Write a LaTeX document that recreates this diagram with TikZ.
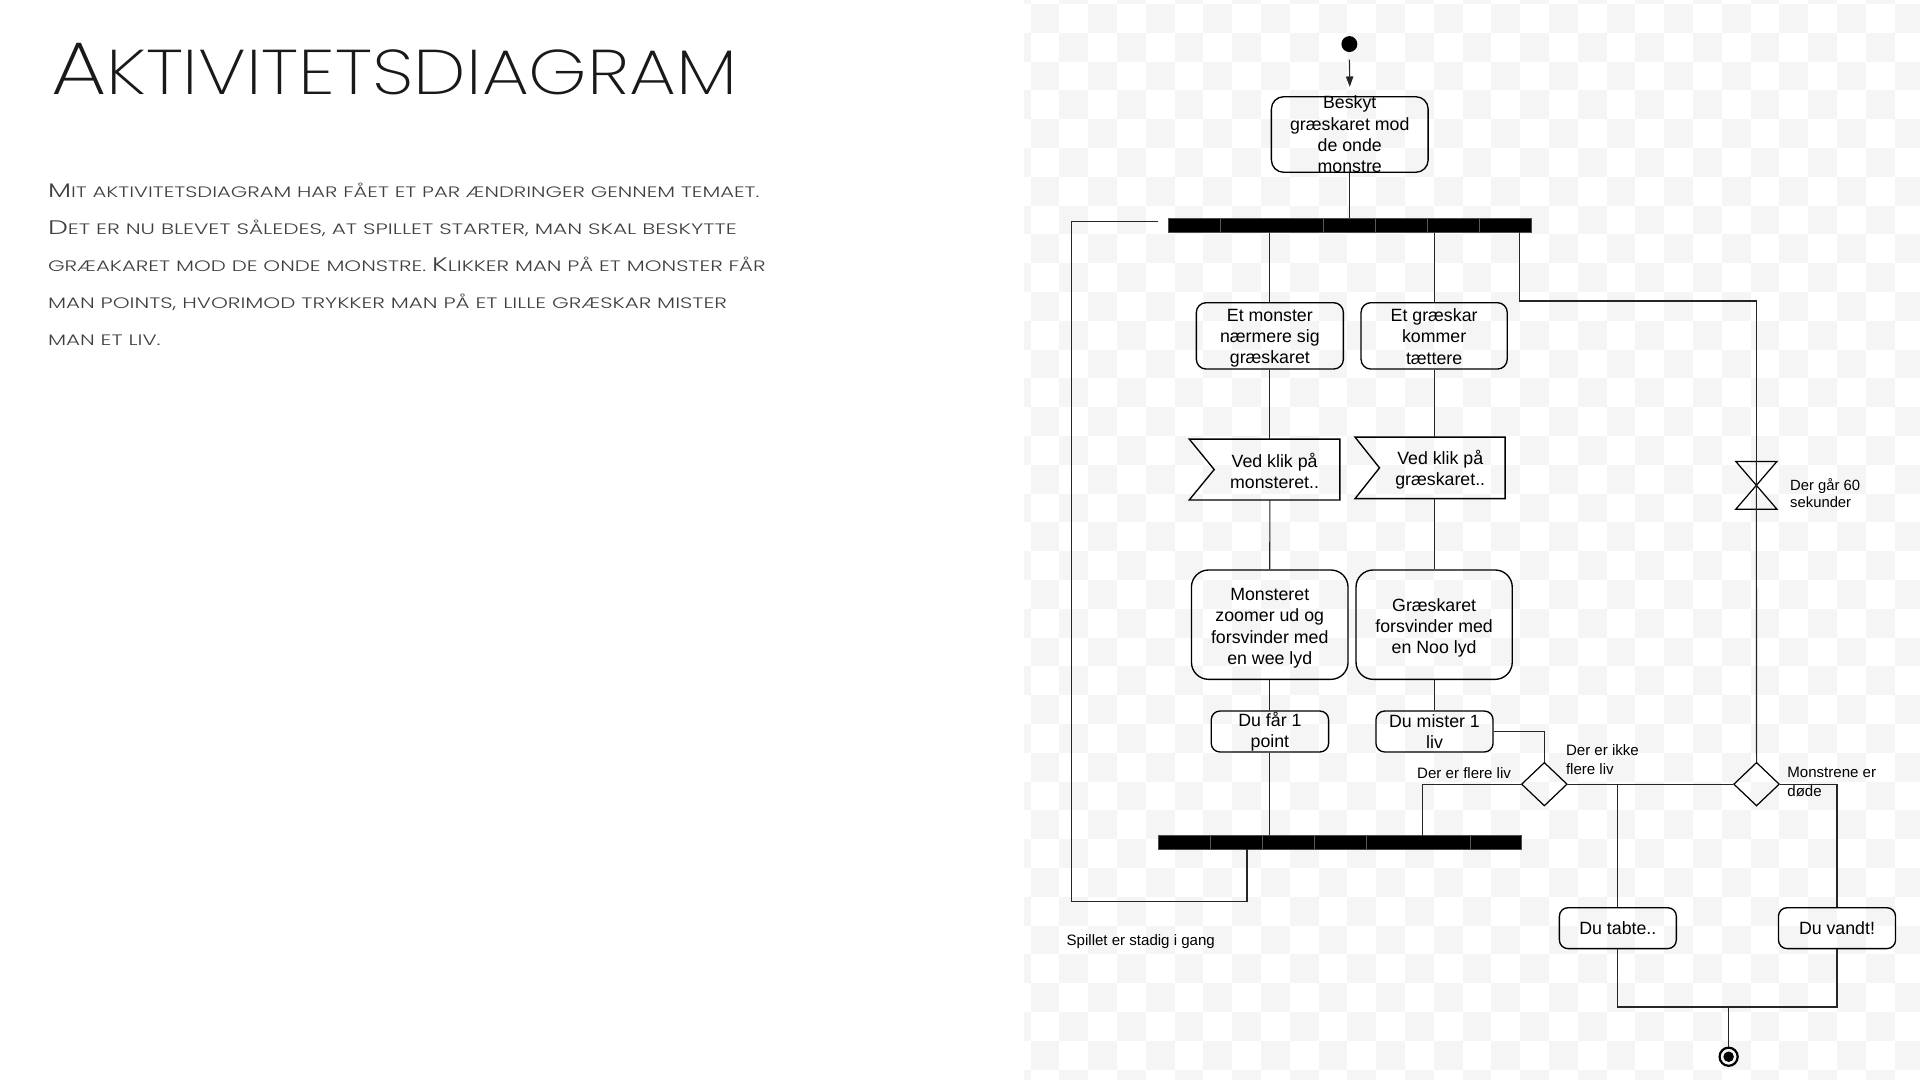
\documentclass[tikz,border=0pt]{standalone}
\usepackage{fontspec}
\usepackage{graphicx}
\setmainfont{Liberation Sans}
\IfFontExistsTF{Poppins ExtraLight}{\newfontfamily\titlefont{Poppins ExtraLight}}{\newfontfamily\titlefont{Poppins}}
\IfFontExistsTF{Poppins Light}{\newfontfamily\bodyfont{Poppins Light}}{\newfontfamily\bodyfont{Poppins}}
\usetikzlibrary{shapes.geometric,arrows.meta}
\definecolor{chk}{RGB}{245,245,245}
\newcommand\BB[1]{{\fontsize{15.3}{18}\selectfont #1}}
\newcommand\SSm[1]{{\fontsize{11.8}{14}\selectfont #1}}
\newcommand\bline[2]{\resizebox{#1}{11.2pt}{\bodyfont\fontsize{15.3}{18}\selectfont\vphantom{H}\smash{#2}}}
\tikzset{
  conn/.style={line width=0.9pt, draw=black!85},
  abox/.style={draw=black, line width=1.1pt, rounded corners=#1, inner sep=0pt},
  abox/.default=7pt,
  txt/.style={font=\fontsize{14.5}{17.4}\selectfont, align=center, inner sep=0pt, text=black},
  lbl/.style={font=\fontsize{12.3}{15.5}\selectfont, align=left, inner sep=0pt, text=black},
  barnode/.style={fill=black, draw=black!70, line width=0.6pt, inner sep=0pt},
  sep/.style={draw=black!65, line width=0.6pt},
}
\begin{document}
\begin{tikzpicture}[x=1pt,y=-1pt]
\useasboundingbox (0,0) rectangle (1568,882);
\fill[white] (0,0) rectangle (1568,882);
% checker background
\begin{scope}
\clip (836.3,0) rectangle (1568,882);
\foreach \i in {-1,...,31}{
  \foreach \j in {-1,...,37}{
    \pgfmathtruncatemacro\s{mod(\i+\j+100,2)}
    \ifnum\s=0 \fill[chk] ({841.7+\i*23.52},{3.27+\j*23.52}) rectangle ++(23.52,23.52);\fi
  }
}
\end{scope}

% left text
\node[anchor=base west, inner sep=0pt, text=black!90] (title) at (41.5,76.8)
  {\resizebox{560.5pt}{42.8pt}{\titlefont\fontsize{61}{70}\selectfont\vphantom{H}\smash{A{\fontsize{51.6}{60}\selectfont KTIVITETSDIAGRAM}}}};
\node[anchor=base west, inner sep=0pt, text=black!75] (txa) at (39,161.4)
  {\bline{581pt}{\BB{M}\SSm{IT AKTIVITETSDIAGRAM HAR FÅET ET PAR ÆNDRINGER GENNEM TEMAET.}}};
\node[anchor=base west, inner sep=0pt, text=black!75] (txb) at (39,191.6)
  {\bline{562.5pt}{\BB{D}\SSm{ET ER NU BLEVET SÅLEDES, AT SPILLET STARTER, MAN SKAL BESKYTTE}}};
\node[anchor=base west, inner sep=0pt, text=black!75] (txc) at (39,222)
  {\bline{586pt}{\SSm{GRÆAKARET MOD DE ONDE MONSTRE. }\BB{K}\SSm{LIKKER MAN PÅ ET MONSTER FÅR}}};
\node[anchor=base west, inner sep=0pt, text=black!75] (txd) at (39,252)
  {\bline{554.5pt}{\SSm{MAN POINTS, HVORIMOD TRYKKER MAN PÅ ET LILLE GRÆSKAR MISTER}}};
\node[anchor=base west, inner sep=0pt, text=black!75] (txe) at (39,281.9)
  {\bline{92pt}{\SSm{MAN ET LIV.}}};

% start
\node[circle, fill=black, minimum size=13pt, inner sep=0pt] (start) at (1102,36) {};
% boxes
\node[abox=10pt, minimum width=128pt, minimum height=61.7pt] (b0) at (1102.3,109.85) {};
\node[txt] at (b0.center) {Beskyt\\græskaret mod\\de onde\\monstre};
\node[barnode, minimum width=296.3pt, minimum height=11.4pt] (bar1) at (1102.15,184) {};
\foreach \x in {996.7,1080.9,1123.3,1165.9,1208.3} \draw[sep] (\x,178.6) -- (\x,189.4);

\node[abox=8pt, minimum width=120.1pt, minimum height=54.2pt] (n1) at (1037.05,274.3) {};
\node[txt] at ([yshift=-2pt]n1.center) {Et monster\\nærmere sig\\græskaret};
\node[abox=8pt, minimum width=119.4pt, minimum height=54.2pt] (n2) at (1171.2,274.3) {};
\node[txt] at ([yshift=-0.5pt]n2.center) {Et græskar\\kommer\\tættere};

\node[minimum width=122.6pt, minimum height=49.3pt, inner sep=0pt] (s1) at (1032.7,383.45) {};
\draw[line width=1.1pt, line join=miter] (s1.north west) -- (s1.north east) -- (s1.south east) -- (s1.south west) -- ([xshift=20.4pt]s1.west) -- cycle;
\node[txt] at (1040.9,384.6) {Ved klik på\\monsteret..};
\node[minimum width=122.2pt, minimum height=49.8pt, inner sep=0pt] (s2) at (1167.9,382.1) {};
\draw[line width=1.1pt, line join=miter] (s2.north west) -- (s2.north east) -- (s2.south east) -- (s2.south west) -- ([xshift=20pt]s2.west) -- cycle;
\node[txt] at (1176.2,383.5) {Ved klik på\\græskaret..};

\node[abox=14pt, minimum width=127.9pt, minimum height=89.3pt] (m1) at (1036.95,510.15) {};
\node[txt] at ([yshift=-3pt]m1.center) {Monsteret\\zoomer ud og\\forsvinder med\\en wee lyd};
\node[abox=14pt, minimum width=127.6pt, minimum height=89.3pt] (m2) at (1171.2,510.15) {};
\node[txt] at ([yshift=-2.5pt]m2.center) {Græskaret\\forsvinder med\\en Noo lyd};

\node[abox=7pt, minimum width=95.8pt, minimum height=33.4pt] (p1) at (1037.1,597.4) {};
\node[txt] at (p1.center) {Du får 1\\point};
\node[abox=7pt, minimum width=95.6pt, minimum height=33.4pt] (p2) at (1171.5,597.4) {};
\node[txt] at (p2.center) {Du mister 1\\liv};

\node[diamond, draw=black, line width=1pt, minimum width=37.4pt, minimum height=35.6pt, inner sep=0pt] (d1) at (1261.2,640.4) {};
\node[diamond, draw=black, line width=1pt, minimum width=37.4pt, minimum height=35.6pt, inner sep=0pt] (d2) at (1434.5,640.4) {};

\node[minimum width=33.3pt, minimum height=38.7pt, inner sep=0pt] (hg) at (1434.35,396.35) {};
\draw[line width=1pt] (hg.north west) -- (hg.north east) -- (hg.south west) -- (hg.south east) -- cycle;

\node[barnode, minimum width=297.1pt, minimum height=11.1pt] (bar2) at (1094.25,688.05) {};
\foreach \x in {988.5,1031,1073.6,1116.2,1200.5} \draw[sep] (\x,682.8) -- (\x,693.3);

\node[abox=7pt, minimum width=95.5pt, minimum height=33.4pt] (t1) at (1321.25,758) {};
\node[txt] at (t1.center) {Du tabte..};
\node[abox=7pt, minimum width=95.6pt, minimum height=33.4pt] (w1) at (1500.2,758) {};
\node[txt] at (w1.center) {Du vandt!};

\node[circle, draw=black, line width=1.8pt, minimum size=14.8pt, inner sep=0pt,
  path picture={\fill[black] (path picture bounding box.center) circle (4.3pt);}] (end) at (1411.7,863) {};

% labels
\node[lbl, anchor=base west] (lb1) at (1157.2,635.6) {Der er flere liv};
\node[lbl, anchor=north west] (lb2) at (1278.7,607.6) {Der er ikke\\flere liv};
\node[lbl, anchor=north west] (lb3) at (1459.5,626.1) {Monstrene er\\døde};
\node[lbl, anchor=north west, font=\fontsize{12.1}{14.2}\selectfont] (lb4) at (1461.8,390.6) {Der går 60\\sekunder};
\node[lbl, anchor=base west] (lb5) at (870.9,771.8) {Spillet er stadig i gang};

% connectors
\draw[conn, -{Triangle[length=8.5pt,width=6pt]}] ([yshift=-6pt]start.south) -- ([yshift=7.5pt]b0.north);
\draw[conn] (b0.south) -- (b0.south |- bar1.north);
\draw[conn] (n1.north |- bar1.south) -- (n1.north);
\draw[conn] (n2.north |- bar1.south) -- (n2.north);
\coordinate (br) at (1240.8,189.7);
\draw[conn] (br) -- ++(0,56.1) -| (hg.north);
\draw[conn] (hg.north) -- (d2.north);
\draw[conn] (n1.south) -- (n1.south |- s1.north);
\draw[conn] (n1.south |- s1.south) -- (m1.north);
\draw[conn] (n2.south) -- (n2.south |- s2.north);
\draw[conn] (n2.south |- s2.south) -- (m2.north);
\draw[conn] (m1.south) -- (m1.south |- p1.north);
\draw[conn] (m2.south) -- (m2.south |- p2.north);
\draw[conn] (p1.south) -- (p1.south |- bar2.north);
\draw[conn] (p2.east) -| (d1.north);
\coordinate (jn) at (1161.5,682.5);
\draw[conn] (d1.west) -| (jn);
\draw[conn] (d1.east) -- (d2.west);
\draw[conn] (t1.north |- d1.east) -- (t1.north);
\draw[conn] (d2.east) -| (w1.north);
\draw[conn] (t1.south) -- ++(0,47.1) -| (w1.south);
\coordinate (mrg) at (1411.7,821.8);
\draw[conn] (mrg) -- (end.north);
\coordinate (lp1) at (1018.4,693.6);
\coordinate (lp2) at (946,181);
\draw[conn] (lp1) |- (875,736) |- (lp2);
\end{tikzpicture}
\end{document}
